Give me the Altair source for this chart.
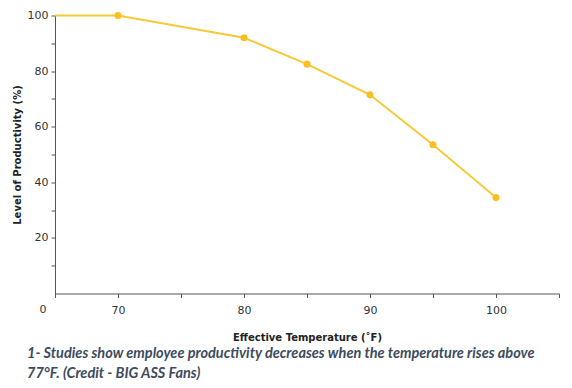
import altair as alt
import pandas as pd

temps = [65, 70, 80, 85, 90, 95, 100]
productivity = [100, 100, 92, 82.5, 71.5, 53.5, 34.5]
show_point = [False, True, True, True, True, True, True]

x_ticks = [65, 70, 75, 80, 85, 90, 95, 100, 105]
y_ticks = [10, 20, 30, 40, 50, 60, 70, 80, 90, 100]

caption = [
    "1- Studies show employee productivity decreases when the temperature rises above",
    "77°F. (Credit - BIG ASS Fans)",
]

df = pd.DataFrame({"temp": temps, "prod": productivity, "pt": show_point})
corner = pd.DataFrame({"temp": [65], "prod": [0], "label": ["0"]})

axis_font = "DejaVu Sans"

x_scale = alt.Scale(domain=[65, 105], nice=False, zero=False)
y_scale = alt.Scale(domain=[0, 100], nice=False)

x_enc = alt.X(
    "temp:Q",
    scale=x_scale,
    axis=alt.Axis(
        title="Effective Temperature (˚F)",
        values=x_ticks,
        labelExpr="datum.value % 10 == 0 ? '' + datum.value : ''",
        grid=False,
        tickSize=4,
        labelPadding=7,
        titlePadding=17,
        labelOverlap=False,
    ),
)
y_enc = alt.Y(
    "prod:Q",
    scale=y_scale,
    axis=alt.Axis(
        title="Level of Productivity (%)",
        values=y_ticks,
        labelExpr="datum.value % 20 == 0 ? '' + datum.value : ''",
        grid=False,
        tickSize=4,
        labelPadding=3,
        titlePadding=5,
        labelOverlap=False,
    ),
)

line = alt.Chart(df).mark_line(color="#f6c936", strokeWidth=2).encode(x=x_enc, y=y_enc)
points = (
    alt.Chart(df)
    .transform_filter("datum.pt")
    .mark_point(filled=True, color="#fbbf24", size=50, opacity=1)
    .encode(x=x_enc, y=y_enc)
)
zero = (
    alt.Chart(corner)
    .mark_text(font=axis_font, fontSize=11, color="#333333", dx=-12, dy=16)
    .encode(x=x_enc, y=y_enc, text="label:N")
)

chart = (
    alt.layer(line, points, zero)
    .properties(
        width=504,
        height=278,
        autosize=alt.AutoSizeParams(type="none"),
        padding={"left": 47, "top": 7.5, "right": 5, "bottom": 86},
        title=alt.TitleParams(
            text=caption,
            orient="bottom",
            anchor="start",
            frame="group",
            dx=-28,
            offset=4,
            font="Lato",
            fontSize=14.5,
            fontStyle="italic",
            fontWeight="bold",
            color="#3d4b5e",
            lineHeight=20,
        ),
    )
    .configure_view(stroke=None)
    .configure_axis(
        domainColor="#555555",
        tickColor="#555555",
        labelColor="#333333",
        labelFont=axis_font,
        labelFontSize=11,
        titleFont=axis_font,
        titleFontSize=10,
        titleFontWeight="bold",
        titleColor="#222222",
    )
)

chart.save("out.html", embed_options={"renderer": "svg", "actions": False})
